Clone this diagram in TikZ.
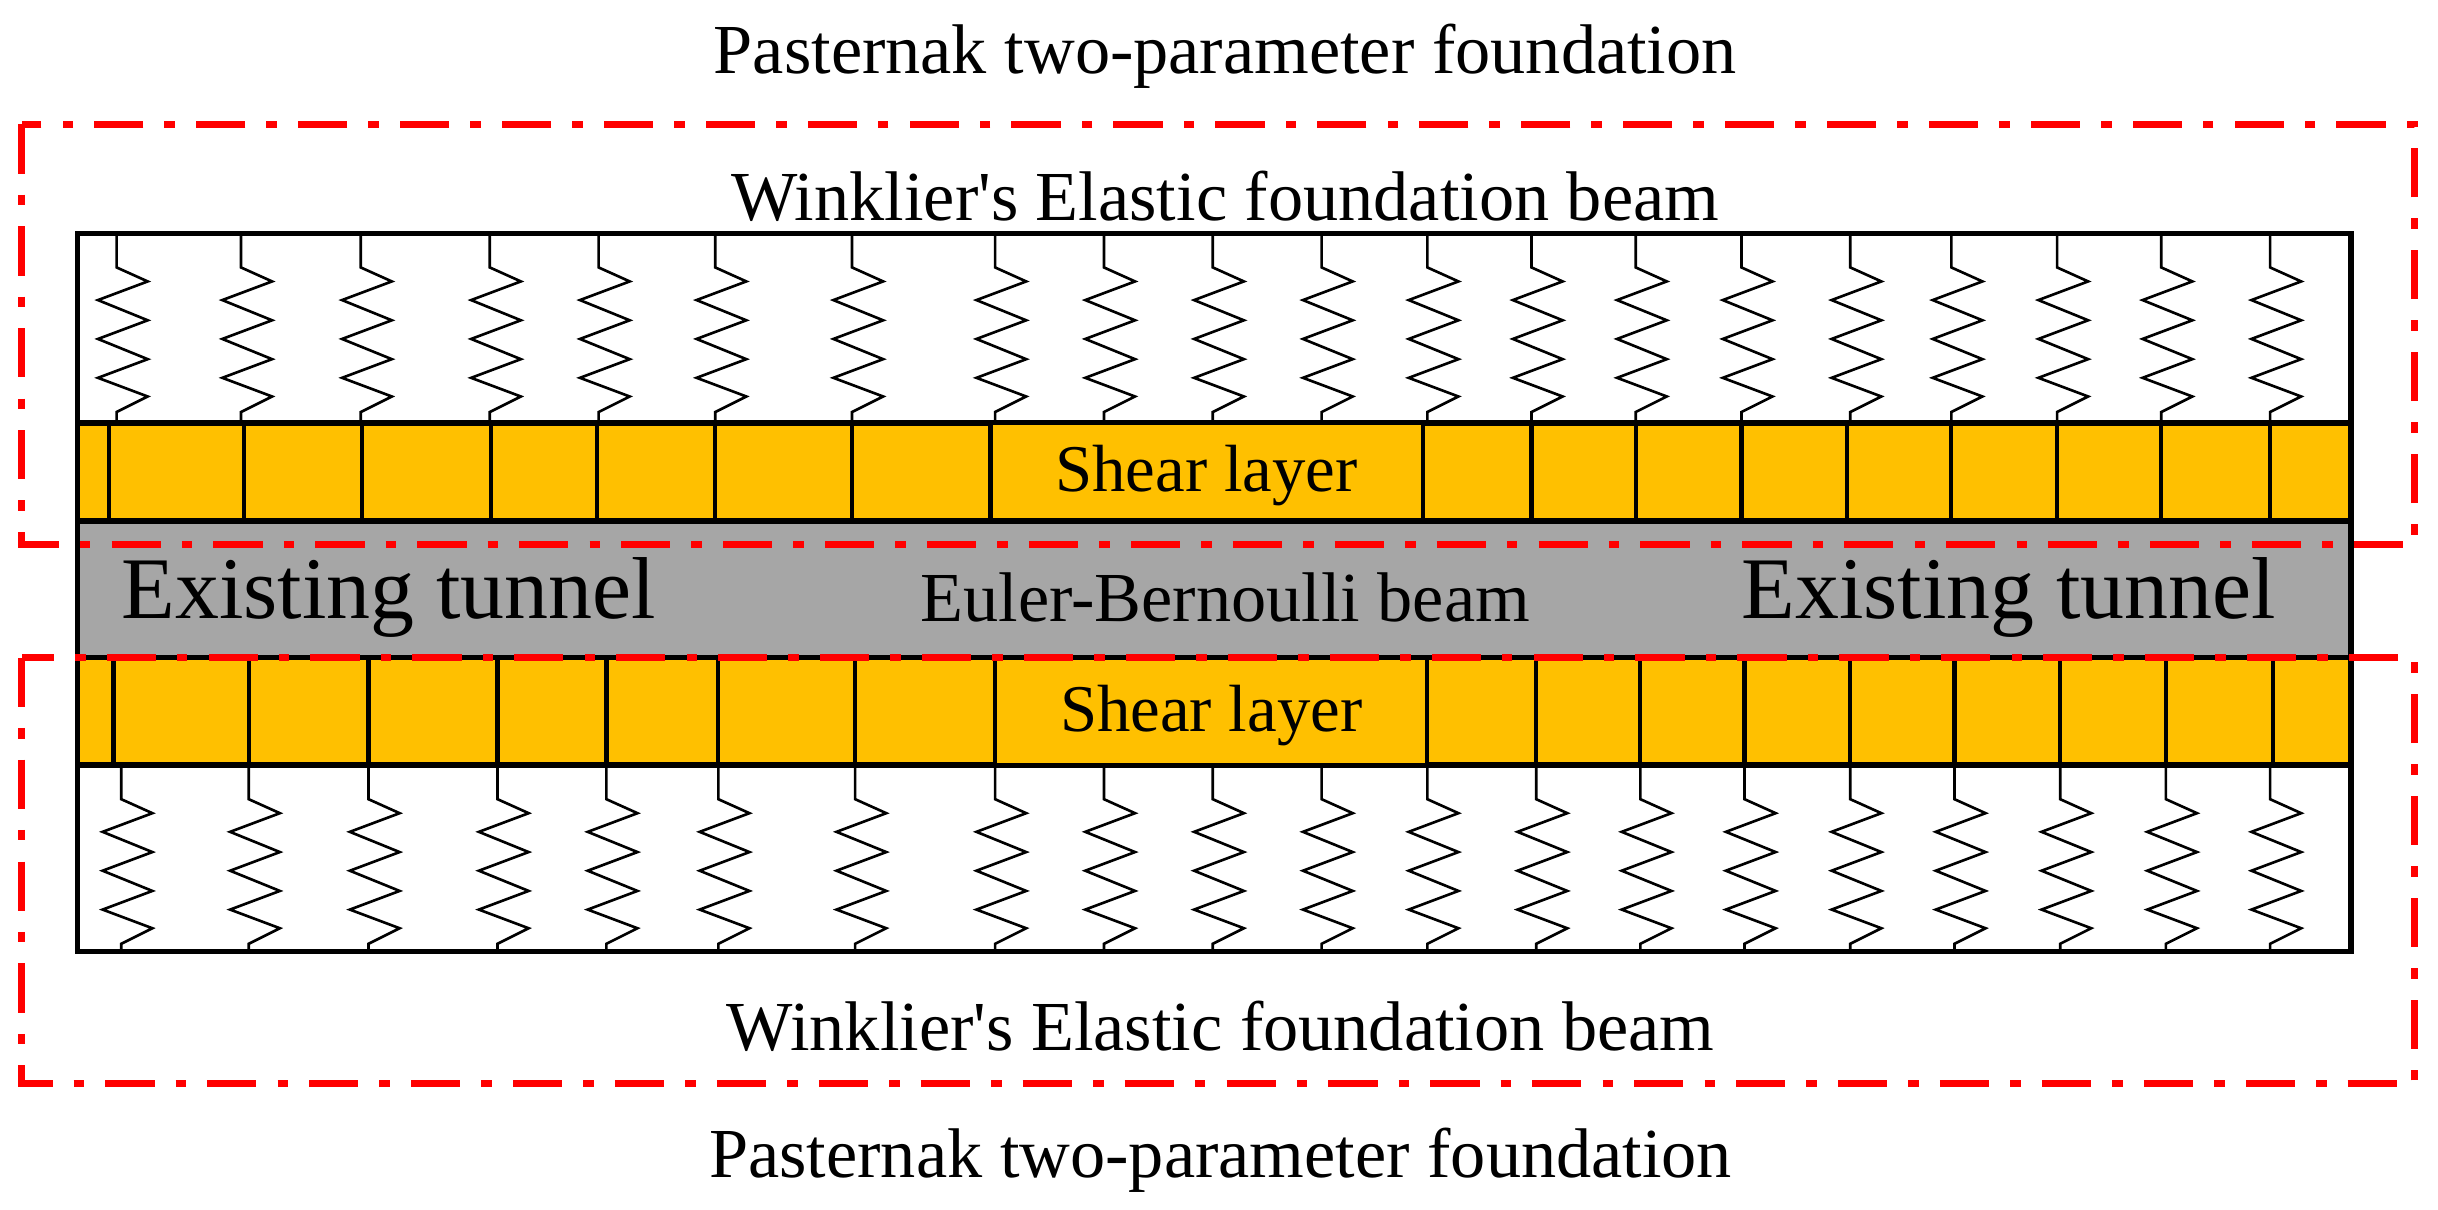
\documentclass[tikz,border=0pt]{standalone}
\usepackage{fontspec}
\setmainfont{Liberation Serif}
\definecolor{shear}{HTML}{FFC000}
\definecolor{beam}{HTML}{A6A6A6}
\definecolor{dred}{HTML}{FF0000}
\begin{document}
\begin{tikzpicture}[x=0.01555cm,y=-0.01555cm,
  box/.style={draw=black,line width=1.5pt},
  sl/.style={draw=black,line width=1.2pt},
  spring/.style={draw=black,line width=0.75pt,line join=miter},
  red/.style={draw=dred,line width=2pt,dash pattern=on 14pt off 6pt on 3pt off 6pt},
  lbl/.style={inner sep=0pt,font=\fontsize{20}{24}\selectfont}]
\useasboundingbox (0,0) rectangle (1568,778);
\path[box,fill=white] (50,150) rectangle (1512,272);
\path[box,fill=shear] (50,272) rectangle (1512,335);
\path[box,fill=beam] (50,335) rectangle (1512,423);
\path[box,fill=shear] (50,423) rectangle (1512,492);
\path[box,fill=white] (50,492) rectangle (1512,612);
% springs
\foreach \x in {75,155,232,315,385,460,548,640,710,780,850,918,985,1052,1120,1190,1255,1323,1390,1460}{
  \draw[spring] (\x,150) -- ++(0,22) -- ++(20,9) -- ++(-32,12) -- ++(32,13) -- ++(-32,12) -- ++(32,13) -- ++(-32,12) -- ++(32,12) -- ++(-20,10) |- (\x-3,272);
}
\foreach \x in {78,160,237,320,390,462,550,640,710,780,850,918,988,1055,1122,1190,1257,1325,1393,1460}{
  \draw[spring] (\x,492) -- ++(0,22) -- ++(20,9) -- ++(-32,12) -- ++(32,13) -- ++(-32,12) -- ++(32,13) -- ++(-32,12) -- ++(32,12) -- ++(-20,10) |- (\x-3,612);
}
% shear divisions
\foreach \x in {70,157,233,316,384,460,548,915,985,1052,1120,1188,1255,1323,1390,1460}{
  \draw[sl] (\x,272) -- (\x,335);
}
\foreach \x in {73,160,237,320,390,462,550,918,988,1055,1122,1190,1257,1325,1393,1462}{
  \draw[sl] (\x,423) -- (\x,492);
}
\draw[sl,fill=shear] (637,272) rectangle (915,335);
\draw[sl,fill=shear] (640,423) rectangle (918,492);
\node[lbl,font=\fontsize{19}{22}\selectfont] (s1) at (776,306) {Shear layer};
\node[lbl,font=\fontsize{19}{22}\selectfont] (s2) at (779,460) {Shear layer};
\path[box] (50,150) rectangle (1512,612);
\draw[box] (50,335) -- (1512,335) (50,423) -- (1512,423);
% beam texts
\node[lbl,font=\fontsize{25}{30}\selectfont] (t1) at (250,384) {Existing tunnel};
\node[lbl,font=\fontsize{25}{30}\selectfont] (t2) at (1292,384) {Existing tunnel};
\node[lbl] (eb) at (788,384) {Euler-Bernoulli beam};
% dashed rects
\draw[red] (14,80) rectangle (1553,350);
\draw[red] (14,423) rectangle (1553,697);
% labels
\node[lbl] (p1) at (788,36) {Pasternak two-parameter foundation};
\node[lbl] (w1) at (788,126) {Winklier\textquotesingle s Elastic foundation beam};
\node[lbl] (w2) at (785,660) {Winklier\textquotesingle s Elastic foundation beam};
\node[lbl] (p2) at (785,746) {Pasternak two-parameter foundation};
\end{tikzpicture}
\end{document}
